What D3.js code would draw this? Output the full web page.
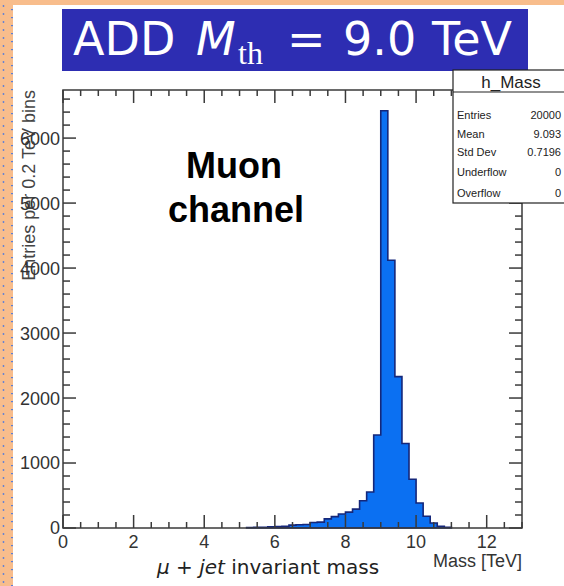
<!DOCTYPE html>
<html>
<head>
<meta charset="utf-8">
<script src="https://cdn.jsdelivr.net/npm/d3@7"></script>
<style>
  html, body { margin: 0; padding: 0; background: #fff; }
  svg { display: block; }
</style>
</head>
<body>
<svg id="chart" width="564" height="586"></svg>
<script>
// Histogram of the mu + jet invariant mass, 0.2 TeV bins
const binStart = 5.2;
const binWidth = 0.2;
const counts = [8, 10, 12, 20, 22, 25, 45, 50, 55, 85, 90, 140, 175, 215, 245,
                290, 420, 555, 1430, 6420, 4120, 2330, 1300, 750, 385, 180, 77, 26, 10];

const xDomain = [0, 13];
const yDomain = [0, 6740];
const xMajorTicks = [0, 2, 4, 6, 8, 10, 12];
const yMajorTicks = [0, 1000, 2000, 3000, 4000, 5000, 6000];

const statLabels = ["Entries", "Mean", "Std Dev", "Underflow", "Overflow"];
const statValues = ["20000", "9.093", "0.7196", "0", "0"];

const svg = d3.select("#chart");
const W = 564, H = 586;
const frame = { left: 63, right: 522, top: 90, bottom: 528 };

const x = d3.scaleLinear().domain(xDomain).range([frame.left, frame.right]);
const y = d3.scaleLinear().domain(yDomain).range([frame.bottom, frame.top]);

const axisColor = "#3a3a3a";
const labelFont = "'Liberation Sans', Arial, Helvetica, sans-serif";

// slide decoration: orange margins with dotted edge
svg.append("rect").attr("x", 0).attr("y", 0).attr("width", W).attr("height", 5).attr("fill", "#f8bd8c");
svg.append("rect").attr("x", 0).attr("y", 0).attr("width", 13).attr("height", H).attr("fill", "#f8bd8c");
const dots = d3.range(6, H, 8);
svg.append("g").selectAll("circle").data(dots).join("circle")
  .attr("cx", 3.5).attr("cy", d => d).attr("r", 0.9).attr("fill", "#5a7fd8");
svg.append("g").selectAll("rect").data(dots).join("rect")
  .attr("x", 11).attr("y", d => d + 3).attr("width", 2).attr("height", 1.2).attr("fill", "#5a7fd8");

// title banner
svg.append("rect").attr("x", 62).attr("y", 9).attr("width", 466).attr("height", 62).attr("fill", "#2d2db2");
const title = svg.append("text").attr("y", 55).attr("fill", "#fff")
  .style("font-family", "'DejaVu Sans', 'Liberation Sans', sans-serif").style("font-size", "46px");
title.append("tspan").attr("x", 73).text("ADD");
title.append("tspan").attr("x", 196).style("font-style", "italic").text("M");
title.append("tspan").attr("x", 238).attr("y", 64)
  .style("font-family", "'Liberation Serif', 'DejaVu Serif', serif").style("font-size", "32px").text("th");
title.append("tspan").attr("x", 287).attr("y", 55).text("=");
title.append("tspan").attr("x", 343).text("9.0");
title.append("tspan").attr("x", 432).text("TeV");

// histogram body
const bins = counts.map((c, i) => ({ x0: binStart + i * binWidth, x1: binStart + (i + 1) * binWidth, n: c }));
const stepPts = [[bins[0].x0, 0]];
bins.forEach(b => { stepPts.push([b.x0, b.n]); stepPts.push([b.x1, b.n]); });
stepPts.push([bins[bins.length - 1].x1, 0]);
const line = d3.line().x(d => x(d[0])).y(d => y(d[1]));
svg.append("path").attr("d", line(stepPts) + "Z")
  .attr("fill", "#0b70f2").attr("stroke", "#15277a").attr("stroke-width", 1.6)
  .attr("stroke-linejoin", "miter");

// frame and ticks
const gAx = svg.append("g").attr("stroke", axisColor).attr("stroke-width", 1.5).attr("fill", "none");
gAx.append("rect").attr("x", frame.left).attr("y", frame.top)
  .attr("width", frame.right - frame.left).attr("height", frame.bottom - frame.top);

const xMinor = d3.range(xDomain[0], xDomain[1] + 1e-9, 0.5);
const yMinor = d3.range(0, yDomain[1], 200);

xMinor.forEach(v => {
  const major = Math.abs(v / 2 - Math.round(v / 2)) < 1e-9;
  const len = major ? 13 : 6;
  gAx.append("line").attr("x1", x(v)).attr("x2", x(v)).attr("y1", frame.bottom).attr("y2", frame.bottom - len);
  gAx.append("line").attr("x1", x(v)).attr("x2", x(v)).attr("y1", frame.top).attr("y2", frame.top + len);
});
yMinor.forEach(v => {
  const major = v % 1000 === 0;
  const len = major ? 13 : 7;
  gAx.append("line").attr("y1", y(v)).attr("y2", y(v)).attr("x1", frame.left).attr("x2", frame.left + len);
  gAx.append("line").attr("y1", y(v)).attr("y2", y(v)).attr("x1", frame.right).attr("x2", frame.right - len);
});

// y axis title (drawn beneath tick labels)
svg.append("text")
  .attr("transform", `translate(35,${frame.top}) rotate(-90)`)
  .attr("text-anchor", "end").attr("fill", "#444")
  .style("font-family", labelFont).style("font-size", "18px")
  .text("Entries per 0.2 TeV bins");

// tick labels
svg.append("g").selectAll("text").data(yMajorTicks).join("text")
  .attr("x", frame.left - 3).attr("y", d => y(d)).attr("dy", "0.36em")
  .attr("text-anchor", "end").attr("fill", "#333")
  .style("font-family", labelFont).style("font-size", "18px")
  .text(d => d);
svg.append("g").selectAll("text").data(xMajorTicks).join("text")
  .attr("x", d => x(d)).attr("y", 548)
  .attr("text-anchor", "middle").attr("fill", "#333")
  .style("font-family", labelFont).style("font-size", "18px")
  .text(d => d);

svg.append("text").attr("x", frame.right).attr("y", 567)
  .attr("text-anchor", "end").attr("fill", "#333")
  .style("font-family", labelFont).style("font-size", "18px")
  .text("Mass [TeV]");

// x axis title
const xt = svg.append("text").attr("x", 157).attr("y", 574).attr("fill", "#222")
  .style("font-family", "'DejaVu Sans', sans-serif").style("font-size", "20px");
xt.append("tspan").style("font-style", "italic").text("μ");
xt.append("tspan").text(" + ");
xt.append("tspan").style("font-style", "italic").text("jet");
xt.append("tspan").text(" invariant mass");

// channel annotation
const ann = svg.append("text").attr("text-anchor", "middle").attr("fill", "#000")
  .style("font-family", labelFont).style("font-size", "36px").style("font-weight", "bold");
ann.append("tspan").attr("x", 234).attr("y", 178).text("Muon");
ann.append("tspan").attr("x", 236).attr("y", 222).text("channel");

// statistics box
const sb = { x: 453, y: 70, w: 120, h: 133, head: 22 };
const gs = svg.append("g");
gs.append("rect").attr("x", sb.x).attr("y", sb.y).attr("width", sb.w).attr("height", sb.h)
  .attr("fill", "#fff").attr("stroke", "#222").attr("stroke-width", 1.2);
gs.append("line").attr("x1", sb.x).attr("x2", sb.x + sb.w).attr("y1", sb.y + sb.head).attr("y2", sb.y + sb.head)
  .attr("stroke", "#222").attr("stroke-width", 1.2);
gs.append("text").attr("x", 511).attr("y", sb.y + 18).attr("text-anchor", "middle").attr("fill", "#222")
  .style("font-family", labelFont).style("font-size", "17px").text("h_Mass");
const rowY = [115, 134, 152, 172, 193];
gs.selectAll("text.lab").data(statLabels).join("text").attr("class", "lab")
  .attr("x", 457).attr("y", (d, i) => rowY[i]).attr("dy", "0.35em").attr("fill", "#222")
  .style("font-family", labelFont).style("font-size", "11px").text(d => d);
gs.selectAll("text.val").data(statValues).join("text").attr("class", "val")
  .attr("x", 561).attr("y", (d, i) => rowY[i]).attr("dy", "0.35em").attr("text-anchor", "end").attr("fill", "#222")
  .style("font-family", labelFont).style("font-size", "11px").text(d => d);
</script>
</body>
</html>
